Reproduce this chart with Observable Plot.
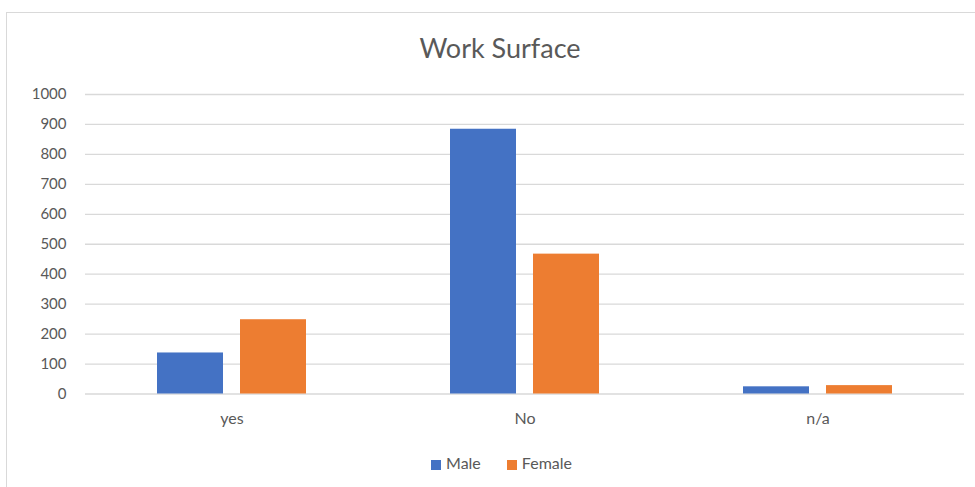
<!DOCTYPE html>
<html>
<head>
<meta charset="utf-8">
<script src="https://cdn.jsdelivr.net/npm/d3@7"></script>
<script src="https://cdn.jsdelivr.net/npm/@observablehq/plot@0.6"></script>
<style>
  html, body { margin: 0; padding: 0; background: #fff; overflow: hidden; }
  #wrap { position: relative; width: 975px; height: 487px; font-family: Lato, "Open Sans", sans-serif; color: #595959; }
  #frame { position: absolute; left: 6px; top: 12px; width: 1000px; height: 500px; border: 1px solid #d9d9d9; box-sizing: border-box; }
  #title { position: absolute; left: 0; width: 1000px; top: 32px; text-align: center; font-size: 27px; line-height: 32px; color: #595959; }
  #chart { position: absolute; left: 0; top: 80px; }
  #legend { position: absolute; left: 0; width: 1003px; top: 453px; text-align: center; font-size: 16px; line-height: 20px; color: #595959; }
  .sw { display: inline-block; width: 10px; height: 10px; margin-right: 5px; vertical-align: -1px; }
  .item { display: inline-block; margin: 0 13px; }
</style>
</head>
<body>
<div id="wrap">
  <div id="frame"></div>
  <div id="title">Work Surface</div>
  <div id="chart"></div>
  <div id="legend"></div>
</div>
<script>
const categories = ["yes", "No", "n/a"];
const series = ["Male", "Female"];
const male = [137, 884, 24];
const female = [248, 467, 28];
const yTicks = [0, 100, 200, 300, 400, 500, 600, 700, 800, 900, 1000];
const colors = ["#4472C4", "#ED7D31"];

const data = categories.flatMap((c, i) => [
  {cat: c, sex: series[0], value: male[i]},
  {cat: c, sex: series[1], value: female[i]}
]);

const chart = Plot.plot({
  width: 975,
  height: 360,
  marginLeft: 85,
  marginRight: 11,
  marginTop: 14,
  marginBottom: 46.5,
  style: {fontFamily: "Lato, 'Open Sans', sans-serif", fontSize: "15px", color: "#595959", background: "transparent"},
  fx: {domain: categories, padding: 0, label: null},
  x: {domain: series, paddingInner: 0.205, paddingOuter: 0.867, axis: null},
  y: {domain: [0, 1000], axis: null},
  color: {domain: series, range: colors},
  marks: [
    Plot.gridY(yTicks, {stroke: "#d9d9d9", strokeOpacity: 1, strokeWidth: 1.3}),
    Plot.barY(data, {fx: "cat", x: "sex", y: "value", fill: "sex"}),
    Plot.axisY(yTicks, {tickSize: 0, tickPadding: 19, label: null, fill: "#595959", fontSize: 15, tickFormat: d => String(d)}),
    Plot.axisFx({anchor: "bottom", tickSize: 0, tickPadding: 19, label: null, fill: "#595959", fontSize: 16})
  ]
});
document.getElementById("chart").appendChild(chart);

const legend = document.getElementById("legend");
series.forEach((s, i) => {
  const item = document.createElement("span");
  item.className = "item";
  const sw = document.createElement("span");
  sw.className = "sw";
  sw.style.background = colors[i];
  item.appendChild(sw);
  item.appendChild(document.createTextNode(s));
  legend.appendChild(item);
});
</script>
</body>
</html>
